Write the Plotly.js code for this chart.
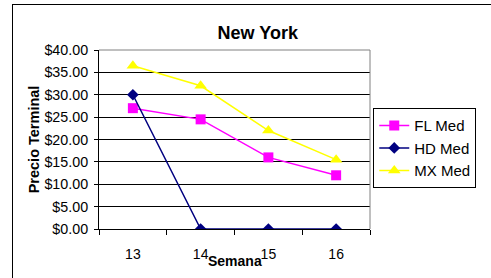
<!DOCTYPE html>
<html><head><meta charset="utf-8">
<script src="https://cdn.plot.ly/plotly-3.0.1.min.js"></script>
<style>
html,body{margin:0;padding:0;background:#fff;overflow:hidden;}
#wrap{position:relative;width:491px;height:278px;}
#frame{position:absolute;left:12px;top:4px;width:600px;height:400px;border:1px solid #000;pointer-events:none;z-index:5;}
#chart{position:absolute;left:0;top:0;width:491px;height:278px;}
</style></head>
<body><div id="wrap"><div id="chart"></div><div id="frame"></div></div>
<script>
const weeks = ['13','14','15','16'];
const flMed = [27, 24.5, 16, 12];
const hdMed = [30, 0, 0, 0];
const mxMed = [36.5, 32, 22, 15.5];
const yTicks = [0,5,10,15,20,25,30,35,40];
const yTickText = ['$0.00','$5.00','$10.00','$15.00','$20.00','$25.00','$30.00','$35.00','$40.00'];

const font = 'Liberation Sans, Arial, sans-serif';
const traces = [
  {name:'FL Med', x:weeks, y:flMed, type:'scatter', mode:'lines+markers',
   line:{color:'#FF00FF', width:1.5}, marker:{symbol:'square', size:10, color:'#FF00FF'}},
  {name:'HD Med', x:weeks, y:hdMed, type:'scatter', mode:'lines+markers',
   line:{color:'#000080', width:1.5}, marker:{symbol:'diamond', size:9, color:'#000080'}},
  {name:'MX Med', x:weeks, y:mxMed, type:'scatter', mode:'lines+markers',
   line:{color:'#FFFF00', width:1.5}, marker:{symbol:'triangle-up', size:11, color:'#FFFF00'}}
];
const layout = {
  width:491, height:278,
  margin:{l:99, r:121, t:50, b:49},
  paper_bgcolor:'#fff', plot_bgcolor:'#fff',
  font:{family:font, size:14, color:'#000'},
  title:{text:'<b>New York</b>', x:0.525, xref:'container', y:1-32.5/278, yref:'container',
         yanchor:'middle', xanchor:'center', font:{family:font, size:18, color:'#000'}},
  xaxis:{type:'category', range:[-0.5,3.5], tickson:'boundaries', ticks:'outside', ticklen:5,
         tickcolor:'#000', showline:true, linecolor:'#000', linewidth:1, showgrid:false,
         ticklabelstandoff:12, tickfont:{size:14}},
  yaxis:{range:[0,40], tickvals:yTicks, ticktext:yTickText, ticks:'outside', ticklen:4,
         tickcolor:'#000', showline:true, linecolor:'#000', linewidth:1, ticklabelstandoff:3,
         showgrid:true, gridcolor:'#000', gridwidth:1, zeroline:false, tickfont:{size:14.3},
         title:{text:'<b>Precio Terminal</b>', font:{size:14.5}, standoff:1}},
  legend:{x:1.012, y:0.675, xanchor:'left', yanchor:'top', bordercolor:'#000', borderwidth:1,
          bgcolor:'#fff', font:{size:15}},
  showlegend:true,
  annotations:[
    {text:'<b>Semana</b>', xref:'paper', yref:'paper', x:(235-99)/271, y:(229-261)/179,
     xanchor:'center', yanchor:'middle', showarrow:false, font:{size:14}}
  ],
  shapes:[
    {type:'line', xref:'paper', yref:'paper', x0:0, x1:1, y0:1, y1:1, line:{color:'#808080', width:1}},
    {type:'line', xref:'paper', yref:'paper', x0:1, x1:1, y0:0, y1:1, line:{color:'#808080', width:1}}
  ]
};
Plotly.newPlot('chart', traces, layout, {displayModeBar:false, staticPlot:true});
</script></body></html>
